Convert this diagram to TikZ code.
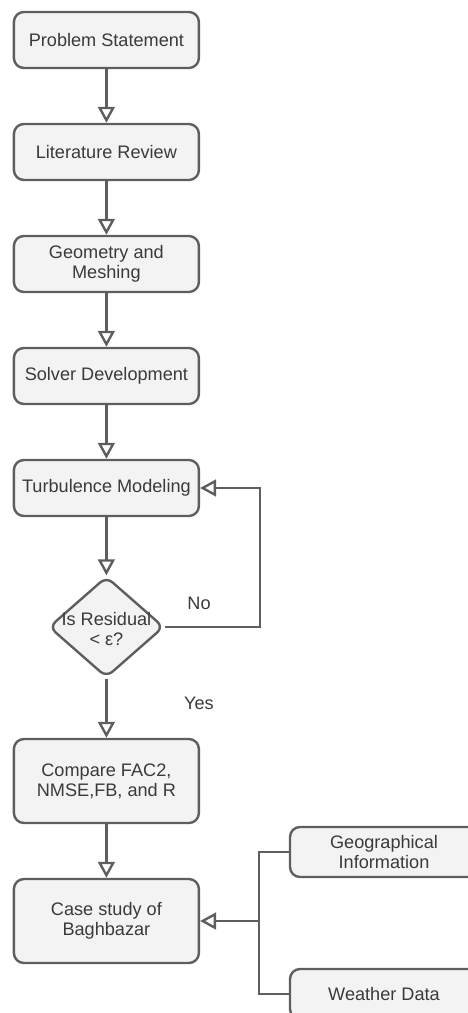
\documentclass[tikz,border=0pt]{standalone}
\usepackage{fontspec}
\setmainfont{Liberation Sans}
\usetikzlibrary{shapes.geometric,arrows.meta}
\definecolor{lineclr}{HTML}{5E5E5E}
\definecolor{boxfill}{HTML}{F3F3F3}
\definecolor{txtclr}{HTML}{3A3A3A}
\tikzset{
  stepbox/.style={draw=lineclr, line width=1.7pt, fill=boxfill, rounded corners=0.25cm,
    minimum width=4.625cm, minimum height=1.4cm, align=center, text=txtclr,
    font=\fontsize{12.9}{14.2}\selectfont},
  bigbox/.style={stepbox, minimum height=2.1cm},
  sidebox/.style={stepbox, minimum width=4.7cm, minimum height=1.25cm},
  decision/.style={draw=lineclr, line width=1.7pt, fill=boxfill, diamond, rounded corners=0.2cm,
    minimum width=2.875cm, minimum height=2.525cm, inner sep=0pt},
  plain/.style={text=txtclr, align=center, font=\fontsize{12.9}{14.2}\selectfont},
  flow/.style={draw=lineclr, line width=1.7pt,
    -{Triangle[open, length=0.4cm, width=0.42cm, line width=1.7pt]}},
  link/.style={draw=lineclr, line width=1.7pt}
}
\begin{document}
\begin{tikzpicture}
  \useasboundingbox (0,0) rectangle (11.7,-25.325);
  % main column
  \node[stepbox] (prob) at (2.66,-1.0) {Problem Statement};
  \node[stepbox] (lit) at (2.66,-3.8) {Literature Review};
  \node[stepbox] (geom) at (2.66,-6.6) {Geometry and\\Meshing};
  \node[stepbox] (solver) at (2.66,-9.4) {Solver Development};
  \node[stepbox] (turb) at (2.66,-12.2) {Turbulence Modeling};
  \node[decision] (res) at (2.66,-15.675) {};
  \node[plain] (restxt) at (2.66,-15.72) {Is Residual\\< ε?};
  \node[bigbox] (comp) at (2.66,-19.525) {Compare FAC2,\\NMSE,FB, and R};
  \node[bigbox] (case) at (2.66,-23.025) {Case study of\\Baghbazar};
  % inputs on the right
  \node[sidebox] (geo) at (9.6,-21.3) {Geographical\\Information};
  \node[sidebox] (wx) at (9.6,-24.85) {Weather Data};
  \node[plain] (no) at (4.975,-15.075) {No};
  \node[plain] (yes) at (4.975,-17.575) {Yes};
  \coordinate (loop) at (6.5,-12.2);
  \coordinate (split) at (6.475,-23.025);

  \draw[flow] (prob) -- (lit);
  \draw[flow] (lit) -- (geom);
  \draw[flow] (geom) -- (solver);
  \draw[flow] (solver) -- (turb);
  \draw[flow] (turb) -- (res);
  \draw[flow] (res) -- (comp);
  \draw[flow] (comp) -- (case);
  \draw[flow] (res.east) -| (loop) -- (turb.east);
  \draw[flow] (geo.west) -| (split) -- (case.east);
  \draw[link] (wx.west) -| (split);
\end{tikzpicture}
\end{document}
